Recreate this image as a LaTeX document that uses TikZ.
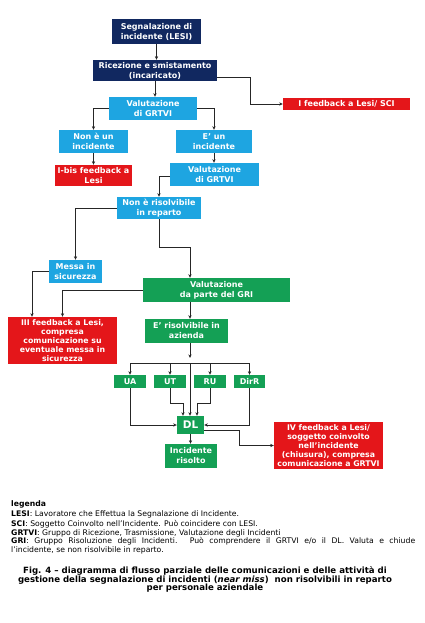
\documentclass[tikz,border=0pt]{standalone}
\usepackage{fontspec}
\usetikzlibrary{arrows.meta,calc}
\newfontfamily\dvs{DejaVu Sans}
\definecolor{navyc}{RGB}{17,40,96}
\definecolor{cyanc}{RGB}{30,165,225}
\definecolor{greenc}{RGB}{20,160,85}
\definecolor{redc}{RGB}{228,22,26}
\tikzset{
 boxbase/.style={rectangle, inner sep=0pt, text=white, align=center, font=\dvs\bfseries\fontsize{8}{10}\selectfont},
 navybox/.style={boxbase, fill=navyc},
 cyanbox/.style={boxbase, fill=cyanc},
 greenbox/.style={boxbase, fill=greenc},
 redbox/.style={boxbase, fill=redc},
 tight/.style={font=\dvs\bfseries\fontsize{7.8}{8.9}\selectfont},
 sz/.style n args={2}{minimum width=#1pt, minimum height=#2pt},
 arr/.style={draw=black!85, line width=0.8pt, -{Stealth[length=3.6pt,width=3.2pt]}},
 ln/.style={draw=black!85, line width=0.8pt},
 legendtxt/.style={inner sep=0pt, anchor=west, font=\dvs\fontsize{7.7}{9}\selectfont},
 captxt/.style={inner sep=0pt, align=center, font=\dvs\bfseries\fontsize{8.6}{8.6}\selectfont}
}
\begin{document}
\begin{tikzpicture}[x=1pt,y=-1pt]
\useasboundingbox[fill=white] (0,0) rectangle (424,623);
% nodes
\node[navybox, sz={89}{25}] (segn) at (156.5,31.5) {Segnalazione di\\incidente (LESI)};
\node[navybox, sz={124}{21}] (ric) at (155,70.5) {Ricezione e smistamento\\(incaricato)};
\node[cyanbox, sz={88}{23}] (val1) at (153,108.5) {Valutazione\\di GRTVI};
\node[redbox, sz={127}{12}] (ifb) at (346.5,104) {I feedback a Lesi/ SCI};
\node[cyanbox, sz={69}{23}] (noninc) at (93.5,141.5) {Non è un\\incidente};
\node[cyanbox, sz={76}{23}] (einc) at (214,141.5) {E’ un\\incidente};
\node[redbox, sz={77}{21}] (ibis) at (93.5,175.5) {I-bis feedback a\\Lesi};
\node[cyanbox, sz={89}{23}] (val2) at (214.5,174.5) {Valutazione\\di GRTVI};
\node[cyanbox, sz={84}{22}] (nonris) at (159,208) {Non è risolvibile\\in reparto};
\node[cyanbox, sz={53}{23}] (messa) at (75.5,271.5) {Messa in\\sicurezza};
\node[greenbox, sz={147}{24}] (gri) at (216.5,290) {Valutazione\\da parte del GRI};
\node[redbox, tight, sz={109}{47}] (iii) at (62.5,340.5) {III feedback a Lesi,\\compresa\\comunicazione su\\eventuale messa in\\sicurezza};
\node[greenbox, sz={83}{24}] (eris) at (186.5,331) {E’ risolvibile in\\azienda};
\node[greenbox, sz={32}{13}] (ua) at (130,381.5) {UA};
\node[greenbox, sz={32}{13}] (ut) at (170,381.5) {UT};
\node[greenbox, sz={32}{13}] (ru) at (210,381.5) {RU};
\node[greenbox, sz={31}{13}] (dirr) at (249.5,381.5) {DirR};
\node[greenbox, sz={27}{18}, font=\dvs\bfseries\fontsize{10.5}{12}\selectfont] (dl) at (190.5,425) {DL};
\node[greenbox, sz={52}{24}] (ris) at (191,456) {Incidente\\risolto};
\node[redbox, tight, sz={109}{47}] (iv) at (328.5,445.5) {IV feedback a Lesi/\\soggetto coinvolto\\nell’incidente\\(chiusura), compresa\\comunicazione a GRTVI};
% helper coordinates
\coordinate (k1) at (190,247);
\coordinate (bc) at (190,363);
\coordinate (bl) at (130,363);
\coordinate (br) at (249.5,363);
\coordinate (utk) at (183,403);
\coordinate (ruk) at (197,403);
% connectors
\draw[arr] (segn.south) -- (segn.south |- ric.north);
\draw[arr] ([yshift=-6.5pt]ric.east) -- ++(33,0) |- (ifb.west);
\draw[arr] (ric.south) -- (ric.south |- val1.north);
\draw[arr] (val1.west) -| (noninc.north);
\draw[arr] (val1.east) -| (einc.north);
\draw[arr] (noninc.south) -- (ibis.north);
\draw[arr] (einc.south) -- (einc.south |- val2.north);
\draw[arr] ([yshift=-1.5pt]val2.west) -| (nonris.north);
\draw[arr] (nonris.west) -| (messa.north);
\draw[arr] (nonris.south) |- (k1) -- (k1 |- gri.north);
\draw[arr] (messa.west) -| ([xshift=-30.5pt]iii.north);
\draw[arr] (gri.west) -| (iii.north);
\draw[arr] (k1 |- gri.south) -- (k1 |- eris.north);
\draw[arr, shorten >=5pt] (k1 |- eris.south) -- (bc);
\draw[ln] (bl) -- (br);
\draw[arr] (bl) -- (ua.north);
\draw[arr] (ut.north |- bc) -- (ut.north);
\draw[arr] (ru.north |- bc) -- (ru.north);
\draw[arr] (br) -- (dirr.north);
\draw[arr] (bc) -- (bc |- dl.north);
\draw[arr] (ua.south) |- (dl.west);
\draw[arr] (ut.south) |- (utk) -- (utk |- dl.north);
\draw[arr] (ru.south) |- (ruk) -- (ruk |- dl.north);
\draw[arr] (dirr.south) |- (dl.east);
\draw[arr] (dl.south) -- (dl.south |- ris.north);
\draw[arr] ([yshift=-5pt]dl.east) -- ++(35,0) |- (iv.west);
% legend
\node[legendtxt] (lg0) at (11,504.3) {\textbf{legenda}};
\node[legendtxt] (lg1) at (11,514.3) {\textbf{LESI}: Lavoratore che Effettua la Segnalazione di Incidente.};
\node[legendtxt] (lg2) at (11,524.3) {\textbf{SCI}: Soggetto Coinvolto nell’Incidente. Può coincidere con LESI.};
\node[legendtxt] (lg3) at (11,533.3) {\textbf{GRTVI}: Gruppo di Ricezione, Trasmissione, Valutazione degli Incidenti};
\node[legendtxt] (lg4) at (11,541.7) {\makebox[404pt][s]{\textbf{GRI}: Gruppo Risoluzione degli Incidenti. Può comprendere il GRTVI e/o il DL. Valuta e chiude}};
\node[legendtxt] (lg5) at (11,550) {l’incidente, se non risolvibile in reparto.};
% caption
\node[captxt] (cap) at (205,579.5) {Fig. 4 – diagramma di flusso parziale delle comunicazioni e delle attività di\\gestione della segnalazione di incidenti (\textit{near miss})\ \ non risolvibili in reparto\\per personale aziendale};
\end{tikzpicture}
\end{document}
